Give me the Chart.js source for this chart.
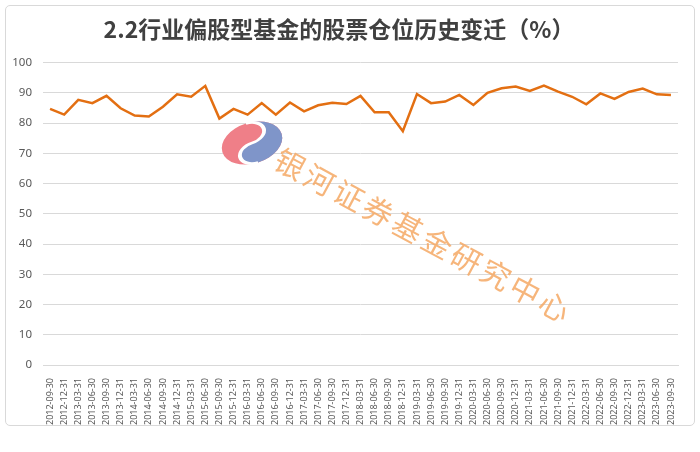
<!DOCTYPE html>
<html>
<head>
<meta charset="utf-8">
<script src="https://cdn.jsdelivr.net/npm/chart.js@4.4.0/dist/chart.umd.min.js"></script>
<style>
    html, body { margin: 0; padding: 0; background: #fff; }
    #frame {
        position: absolute; left: 5px; top: 5px;
        width: 688px; height: 419px;
        border: 1px solid #d9d9d9; border-radius: 5px;
    }
    #wrap { position: absolute; left: 0; top: 0; width: 700px; height: 452px; }
</style>
</head>
<body>
<div id="frame"></div>
<div id="wrap"><canvas id="position_history"></canvas></div>

<script>
// quarter ends, 2012Q3 .. 2023Q3
const quarters = [
    '2012-09-30', '2012-12-31',
    '2013-03-31', '2013-06-30', '2013-09-30', '2013-12-31',
    '2014-03-31', '2014-06-30', '2014-09-30', '2014-12-31',
    '2015-03-31', '2015-06-30', '2015-09-30', '2015-12-31',
    '2016-03-31', '2016-06-30', '2016-09-30', '2016-12-31',
    '2017-03-31', '2017-06-30', '2017-09-30', '2017-12-31',
    '2018-03-31', '2018-06-30', '2018-09-30', '2018-12-31',
    '2019-03-31', '2019-06-30', '2019-09-30', '2019-12-31',
    '2020-03-31', '2020-06-30', '2020-09-30', '2020-12-31',
    '2021-03-31', '2021-06-30', '2021-09-30', '2021-12-31',
    '2022-03-31', '2022-06-30', '2022-09-30', '2022-12-31',
    '2023-03-31', '2023-06-30', '2023-09-30'
]

// stock position of equity-biased funds, %
const stockPosition = [
    84.7, 82.8,
    87.7, 86.6, 89.0, 84.9,
    82.5, 82.2, 85.4, 89.5,
    88.7, 92.3, 81.5, 84.7,
    82.8, 86.6, 82.8, 86.8,
    83.9, 85.9, 86.7, 86.3,
    89.0, 83.6, 83.6, 77.3,
    89.6, 86.6, 87.1, 89.3,
    86.0, 90.0, 91.5, 92.1,
    90.6, 92.4, 90.4, 88.7,
    86.2, 89.8, 88.0, 90.3,
    91.4, 89.5, 89.3
]

const yTicks = [0, 10, 20, 30, 40, 50, 60, 70, 80, 90, 100]

const chartTitle = '2.2行业偏股型基金的股票仓位历史变迁（%）'
const watermarkText = '银河证券基金研究中心'

// logo + diagonal text, drawn over the grid and under the line
const watermark = {
    id: 'watermark',
    beforeDatasetsDraw(chart) {
        const ctx = chart.ctx
        ctx.save()

        // logo
        ctx.translate(252, 143)
        ctx.rotate(-0.3)
        ctx.scale(1, 0.66)
        const R = 31
        ctx.fillStyle = '#ef7f88'
        ctx.beginPath()
        ctx.arc(0, 0, R, 0, Math.PI * 2)
        ctx.fill()
        ctx.fillStyle = '#7f95c9'
        ctx.beginPath()
        ctx.moveTo(0, -R)
        ctx.arc(0, 0, R, -Math.PI / 2, Math.PI / 2, false)
        ctx.arc(0, R / 2, R / 2, Math.PI / 2, Math.PI * 1.5, false)
        ctx.arc(0, -R / 2, R / 2, Math.PI / 2, -Math.PI / 2, true)
        ctx.fill()
        ctx.strokeStyle = '#ffffff'
        ctx.lineWidth = 4
        ctx.beginPath()
        ctx.arc(0, R / 2, R / 2, Math.PI / 2, Math.PI * 1.5, false)
        ctx.arc(0, -R / 2, R / 2, Math.PI / 2, -Math.PI / 2, true)
        ctx.stroke()
        ctx.restore()

        // text, one glyph at a time along the diagonal
        ctx.save()
        ctx.fillStyle = 'rgba(245, 168, 100, 0.85)'
        ctx.font = '400 30px "Noto Sans CJK SC"'
        ctx.textAlign = 'center'
        ctx.textBaseline = 'middle'
        const x0 = 290, y0 = 164, dx = 29.4, dy = 15.8
        const chars = Array.from(watermarkText)
        chars.forEach((ch, i) => {
            ctx.save()
            ctx.translate(x0 + dx * i, y0 + dy * i)
            ctx.rotate(Math.atan2(dy, dx))
            ctx.fillText(ch, 0, 0)
            ctx.restore()
        })
        ctx.restore()
    }
}

const ctx = document.getElementById('position_history').getContext('2d')
const chart = new Chart(ctx, {
    type: 'line',
    data: {
        labels: quarters,
        datasets: [{
            label: '股票仓位',
            data: stockPosition,
            borderColor: '#e36f12',
            borderWidth: 2.5,
            pointRadius: 0,
            tension: 0,
            fill: false
        }]
    },
    options: {
        responsive: true,
        maintainAspectRatio: false,
        animation: false,
        layout: {
            padding: { left: 0, right: 22, top: 0, bottom: 27 }
        },
        plugins: {
            legend: { display: false },
            tooltip: { enabled: false },
            title: {
                display: true,
                text: chartTitle,
                color: '#404040',
                font: { family: '"Noto Sans CJK SC"', size: 23, weight: 'bold' },
                padding: { top: 15, bottom: 20 }
            }
        },
        scales: {
            x: {
                offset: true,
                grid: { display: false },
                border: { display: true, color: '#d9d9d9' },
                ticks: {
                    autoSkip: false,
                    maxRotation: 90,
                    minRotation: 90,
                    padding: 5,
                    color: '#595959',
                    font: { family: '"Noto Sans"', size: 9 }
                },
                afterFit(scale) { scale.height = 60 }
            },
            y: {
                min: 0,
                max: 100,
                afterBuildTicks(scale) { scale.ticks = yTicks.map(v => ({ value: v })) },
                grid: { color: '#d9d9d9', drawTicks: false },
                border: { display: false },
                ticks: {
                    padding: 11,
                    color: '#595959',
                    font: { family: '"Noto Sans"', size: 11.5 }
                },
                afterFit(scale) { scale.width = 43 }
            }
        }
    },
    plugins: [watermark]
})
</script>
</body>
</html>
